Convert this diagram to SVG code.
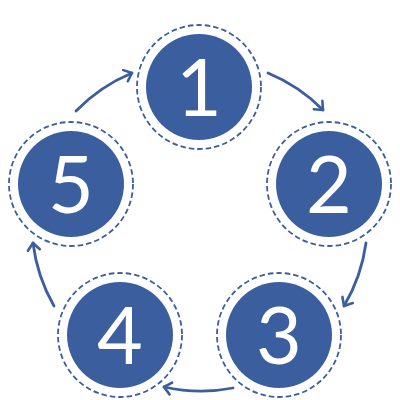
<svg xmlns="http://www.w3.org/2000/svg" width="400" height="400" viewBox="0 0 400 400">
  <defs>
    <marker id="arrow" markerUnits="userSpaceOnUse" markerWidth="20" markerHeight="20" viewBox="-10 -10 20 20" refX="0" refY="0" orient="auto">
      <path d="M-7,-6 L0,0 L-7,6" fill="none" stroke="#3B5E9F" stroke-width="2.6" stroke-linecap="round" stroke-linejoin="round"/>
    </marker>
  </defs>
  <style>
    .disc { fill: #3B5E9F; }
    .ring { fill: none; stroke: #3B5E9F; stroke-width: 1.8; stroke-dasharray: 5.5 3; }
    .num { fill: #ffffff; font-family: Lato, "Open Sans", "Liberation Sans", sans-serif; font-weight: 400; font-size: 79px; text-anchor: middle; }
    .conn { fill: none; stroke: #3B5E9F; stroke-width: 2.8; stroke-linecap: round; marker-end: url(#arrow); }
  </style>
  <g id="connectors">
    <path class="conn" d="M268,73 A167,167 0 0 1 323,110"/>
    <path class="conn" d="M366,243 A167,167 0 0 1 344,306"/>
    <path class="conn" d="M233,388 A167,167 0 0 1 164,387"/>
    <path class="conn" d="M54,306 A167,167 0 0 1 33,243"/>
    <path class="conn" d="M76,111 A167,167 0 0 1 132,73"/>
  </g>
  <g id="node1">
    <circle class="ring" cx="199" cy="87" r="62"/>
    <circle class="disc" cx="199" cy="87" r="53"/>
    <text class="num" x="199" y="116">1</text>
  </g>
  <g id="node2">
    <circle class="ring" cx="329" cy="184" r="62"/>
    <circle class="disc" cx="329" cy="184" r="53"/>
    <text class="num" x="329" y="213">2</text>
  </g>
  <g id="node3">
    <circle class="ring" cx="279" cy="335" r="62"/>
    <circle class="disc" cx="279" cy="335" r="53"/>
    <text class="num" x="279" y="364">3</text>
  </g>
  <g id="node4">
    <circle class="ring" cx="120" cy="335" r="62"/>
    <circle class="disc" cx="120" cy="335" r="53"/>
    <text class="num" x="120" y="364">4</text>
  </g>
  <g id="node5">
    <circle class="ring" cx="71" cy="184" r="62"/>
    <circle class="disc" cx="71" cy="184" r="53"/>
    <text class="num" x="71" y="213">5</text>
  </g>
</svg>
